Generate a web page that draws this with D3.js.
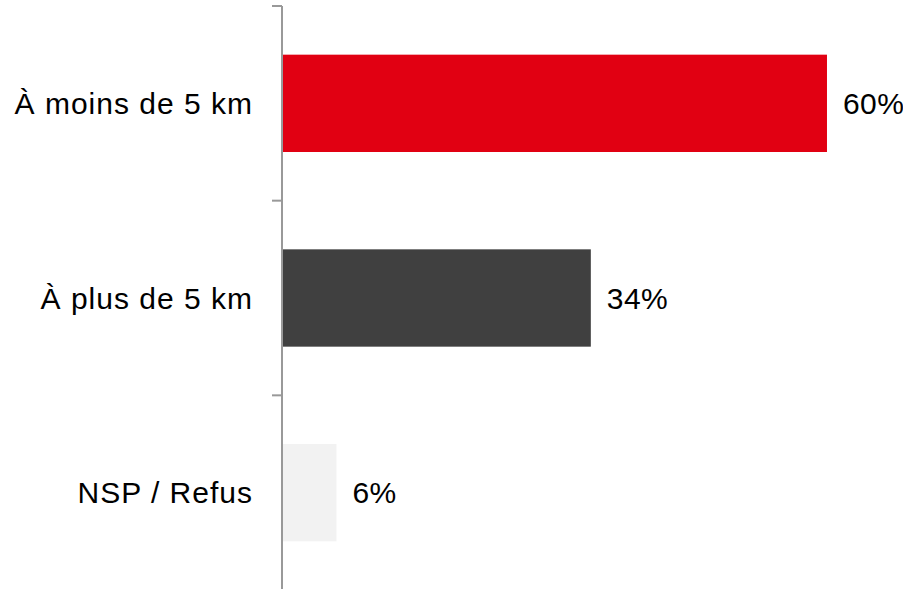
<!DOCTYPE html>
<html>
<head>
<meta charset="utf-8">
<script src="https://cdn.jsdelivr.net/npm/d3@7"></script>
<style>
  html, body { margin: 0; padding: 0; background: #fff; }
  svg { display: block; }
</style>
</head>
<body>
<svg id="chart" width="903" height="589"></svg>
<script>
const categories = ["À moins de 5 km", "À plus de 5 km", "NSP / Refus"];
const values = [60, 34, 6];
const valueLabels = ["60%", "34%", "6%"];
const colors = ["#E10012", "#404040", "#F2F2F2"];

const svg = d3.select("#chart");
const axisX = 282;

const x = d3.scaleLinear().domain([0, 100]).range([axisX, axisX + 908.3]);
const y = d3.scaleBand().domain(categories).range([6, 590]).paddingInner(0.5).paddingOuter(0.25);

// bars
svg.selectAll("rect.bar").data(values).join("rect")
  .attr("class", "bar")
  .attr("x", x(0))
  .attr("y", (d, i) => y(categories[i]))
  .attr("width", d => x(d) - x(0))
  .attr("height", y.bandwidth())
  .attr("fill", (d, i) => colors[i]);

// axis
const r = y.range();
const step = y.step();
const boundaries = d3.range(categories.length + 1).map(i => r[0] + i * step);
const axisG = svg.append("g");
axisG.append("line")
  .attr("x1", axisX).attr("x2", axisX)
  .attr("y1", r[0]).attr("y2", r[1])
  .attr("stroke", "#999").attr("stroke-width", 2);
axisG.selectAll("line.tick").data(boundaries).join("line")
  .attr("class", "tick")
  .attr("x1", axisX - 10).attr("x2", axisX)
  .attr("y1", d => d).attr("y2", d => d)
  .attr("stroke", "#999").attr("stroke-width", 2);

// category labels
svg.selectAll("text.cat").data(categories).join("text")
  .attr("class", "cat")
  .attr("x", axisX - 29)
  .attr("y", d => y(d) + y.bandwidth() / 2)
  .attr("dy", "0.36em")
  .attr("text-anchor", "end")
  .attr("font-family", "'Liberation Sans', Arial, sans-serif")
  .attr("font-size", 30)
  .attr("letter-spacing", 1)
  .attr("fill", "#000")
  .text(d => d);

// value labels
svg.selectAll("text.val").data(values).join("text")
  .attr("class", "val")
  .attr("x", d => x(d) + 16)
  .attr("y", (d, i) => y(categories[i]) + y.bandwidth() / 2)
  .attr("dy", "0.36em")
  .attr("font-family", "'Liberation Sans', Arial, sans-serif")
  .attr("font-size", 30)
  .attr("letter-spacing", 0.4)
  .attr("fill", "#000")
  .text((d, i) => valueLabels[i]);
</script>
</body>
</html>
